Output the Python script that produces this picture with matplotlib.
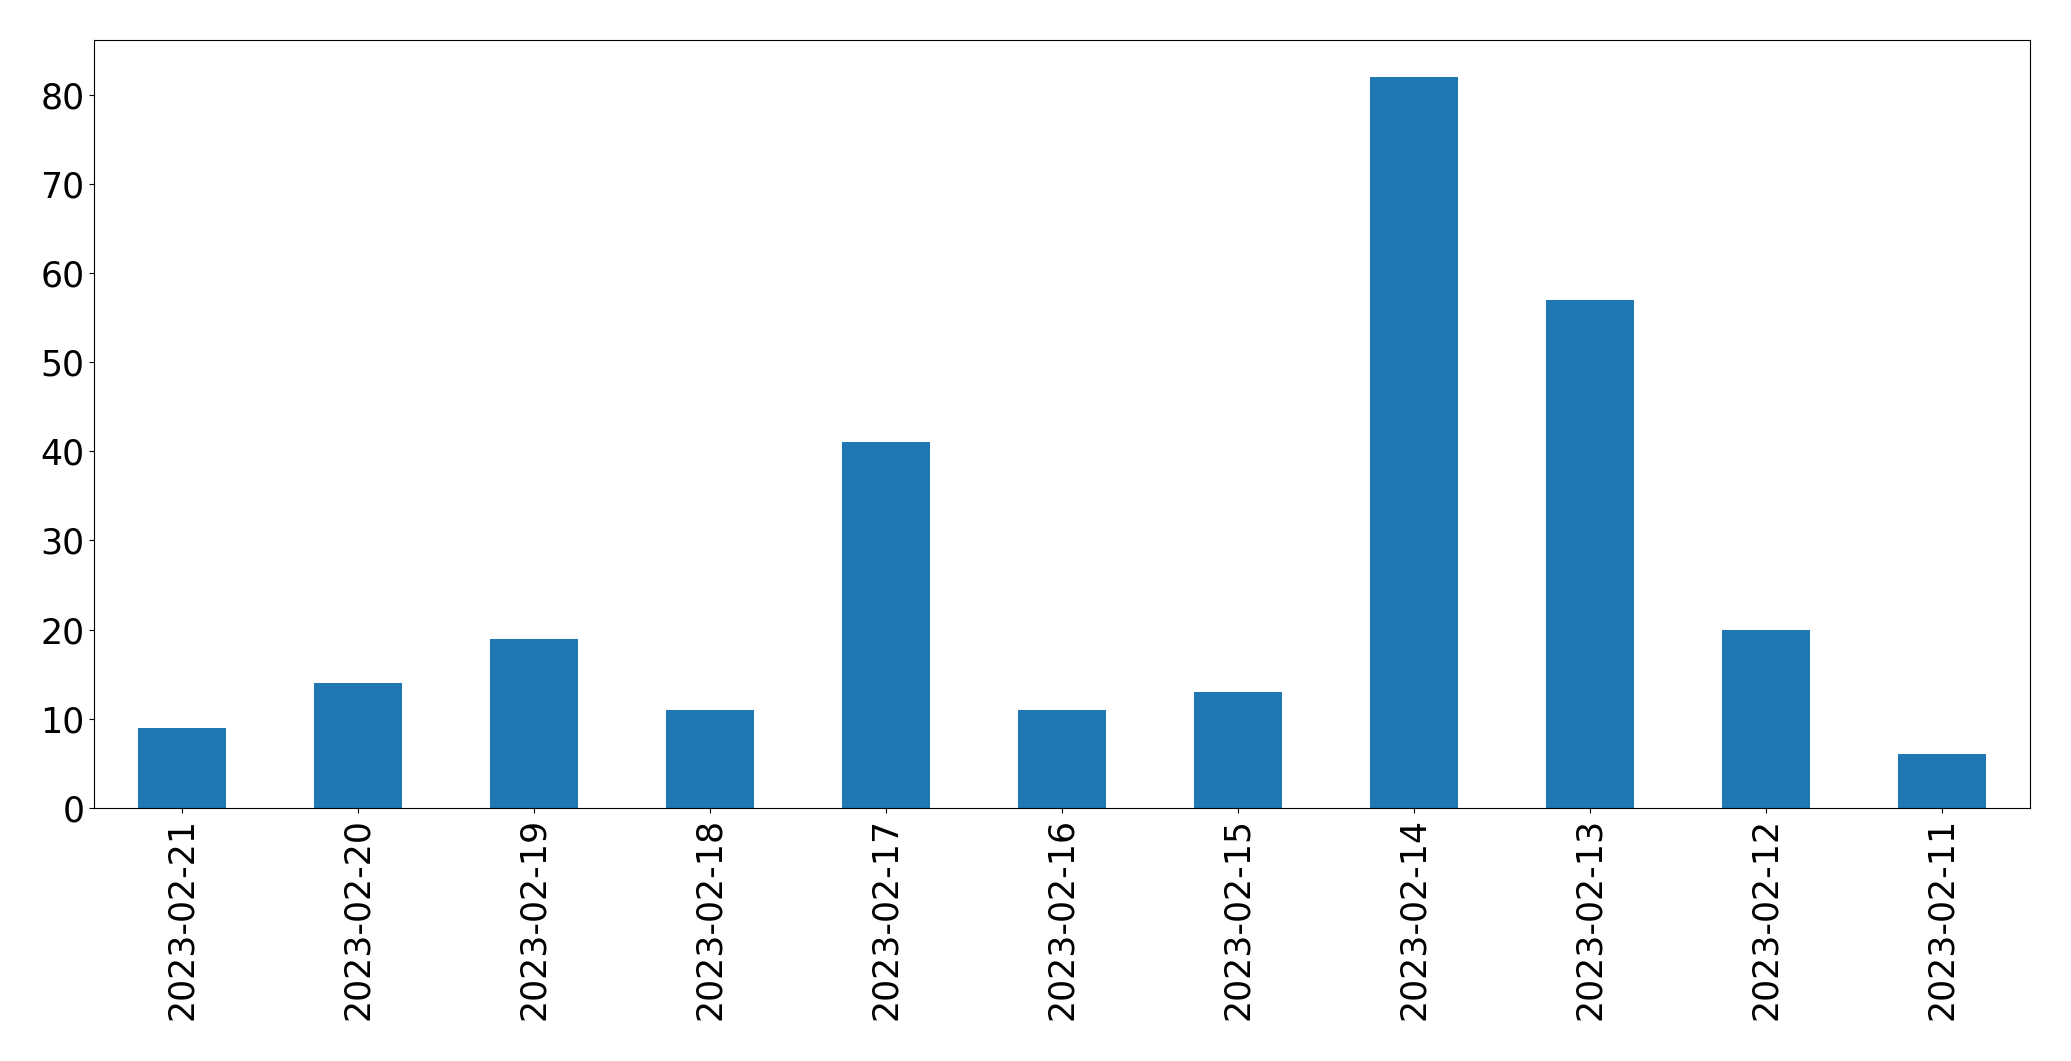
import matplotlib
matplotlib.use("Agg")
import matplotlib.pyplot as plt
import pandas as pd

dates = ["2023-02-21", "2023-02-20", "2023-02-19", "2023-02-18", "2023-02-17",
         "2023-02-16", "2023-02-15", "2023-02-14", "2023-02-13", "2023-02-12",
         "2023-02-11"]
counts = [9, 14, 19, 11, 41, 11, 13, 82, 57, 20, 6]

s = pd.Series(counts, index=dates)

fig, ax = plt.subplots(figsize=(20.71, 10.61), dpi=100)
s.plot(kind="bar", ax=ax, color="#1f77b4")
ax.tick_params(axis="both", labelsize=25)
plt.setp(ax.get_xticklabels(), rotation=90)
fig.subplots_adjust(left=0.0454, right=0.980, top=0.962, bottom=0.2385)
fig.savefig("out.png", dpi=100)
